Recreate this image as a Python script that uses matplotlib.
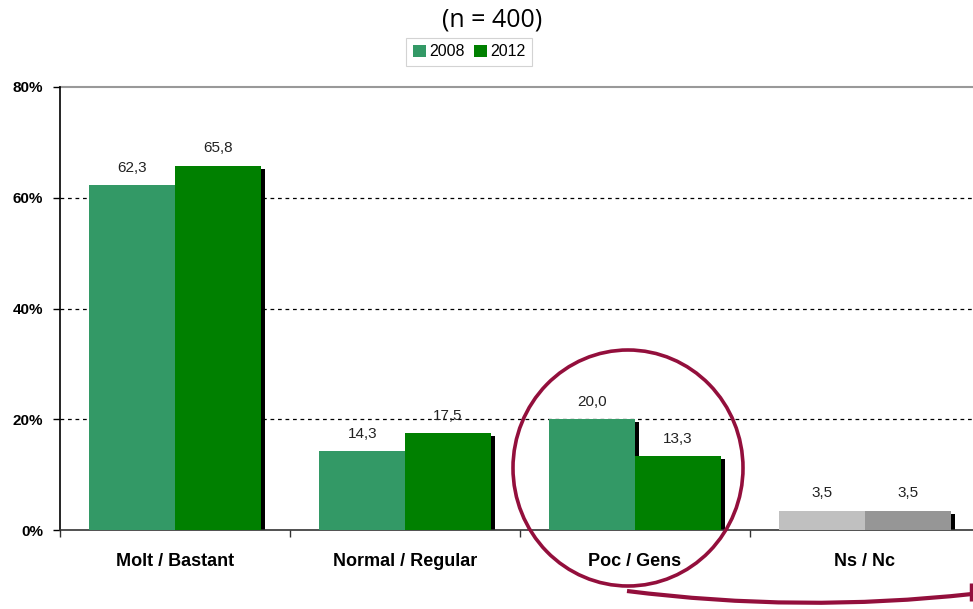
import matplotlib
matplotlib.use("Agg")
import matplotlib.pyplot as plt
from matplotlib.patches import Ellipse, PathPatch, Patch
from matplotlib.path import Path
import matplotlib.transforms as mtransforms

# --- data ---
categories = ["Molt / Bastant", "Normal / Regular", "Poc / Gens", "Ns / Nc"]
values_2008 = [62.3, 14.3, 20.0, 3.5]
values_2012 = [65.8, 17.5, 13.3, 3.5]
series_labels = ["2008", "2012"]
y_ticks = [0, 20, 40, 60, 80]
y_tick_labels = ["0%", "20%", "40%", "60%", "80%"]
title_text = "(n = 400)"

# --- styling ---
colors_2008 = ["#339966", "#339966", "#339966", "#c0c0c0"]
colors_2012 = ["#008000", "#008000", "#008000", "#969696"]
accent = "#930f3c"
W, H = 973, 609

plt.rcParams["font.family"] = ["Liberation Sans", "DejaVu Sans"]

fig = plt.figure(figsize=(W / 100, H / 100), dpi=100)
ax = fig.add_axes([60 / W, 79 / H, 920 / W, 443 / H])

ax.set_xlim(-0.5, 3.5)
ax.set_ylim(0, 80)

bar_w = 0.372
shadow_dx = 4 / 230
shadow_dy = 3 / 5.54

x = list(range(len(categories)))

# drop shadows behind each bar
for xi, v1, v2 in zip(x, values_2008, values_2012):
    ax.bar(xi - bar_w + shadow_dx, v1 - shadow_dy, width=bar_w, align="edge",
           color="black", zorder=2, linewidth=0)
    ax.bar(xi + shadow_dx, v2 - shadow_dy, width=bar_w, align="edge",
           color="black", zorder=2, linewidth=0)

ax.bar([xi - bar_w for xi in x], values_2008, width=bar_w, align="edge",
       color=colors_2008, zorder=3, linewidth=0)
ax.bar(x, values_2012, width=bar_w, align="edge",
       color=colors_2012, zorder=3, linewidth=0)

def fmt(v):
    return f"{v:.1f}".replace(".", ",")

for xi, v1, v2 in zip(x, values_2008, values_2012):
    ax.text(xi - bar_w / 2, v1 + 3.1, fmt(v1), ha="center", va="center",
            fontsize=11, color="#222222", zorder=5)
    ax.text(xi + bar_w / 2, v2 + 3.1, fmt(v2), ha="center", va="center",
            fontsize=11, color="#222222", zorder=5)

# gridlines
for yv in y_ticks[1:-1]:
    ax.axhline(yv, color="black", linestyle=(0, (3, 3)), linewidth=0.9, zorder=1)
ax.axhline(80, color="#999999", linewidth=1.5, zorder=1, clip_on=False)

# spines
for s in ["top", "right"]:
    ax.spines[s].set_visible(False)
ax.spines["left"].set_color("black")
ax.spines["left"].set_linewidth(1.2)
ax.spines["bottom"].set_color("#333333")
ax.spines["bottom"].set_linewidth(1.2)

ax.set_yticks(y_ticks)
ax.set_yticklabels(y_tick_labels, fontsize=11, fontweight="bold")
ax.tick_params(axis="y", direction="out", length=5, width=1, pad=7, color="black")

ax.set_xticks([-0.5, 0.5, 1.5, 2.5, 3.5])
ax.set_xticklabels([])
ax.tick_params(axis="x", direction="out", length=5, width=1, color="#333333")

trans = mtransforms.blended_transform_factory(ax.transData, ax.transAxes)
for xi, cat in zip(x, categories):
    ax.text(xi, -31 / 443, cat, transform=trans, ha="center", va="center",
            fontsize=13, fontweight="bold", color="black")

# title and legend
fig.text(492 / W, 1 - 20 / H, title_text, ha="center", va="center",
         fontsize=18, family=["Open Sans", "DejaVu Sans"], color="black")

handles = [Patch(facecolor=colors_2008[0]), Patch(facecolor=colors_2012[0])]
leg = fig.legend(handles, series_labels, loc="center", bbox_to_anchor=(469 / W, 1 - 52 / H),
                 ncol=2, frameon=True, fancybox=False, fontsize=11.5,
                 handlelength=0.8, handleheight=0.8, handletextpad=0.2,
                 columnspacing=0.6, borderpad=0.4, edgecolor="#c8c8c8")
leg.get_frame().set_linewidth(0.8)

# highlight ring and connector
ring = Ellipse((628 / W, 1 - 468 / H), 230 / W, 236 / H, transform=fig.transFigure,
               fill=False, edgecolor=accent, linewidth=2.6, zorder=10)
fig.patches.append(ring)

def fp(px, py):
    return (px / W, 1 - py / H)

curve = Path([fp(627, 591), fp(800, 613), fp(972, 594)],
             [Path.MOVETO, Path.CURVE3, Path.CURVE3])
fig.patches.append(PathPatch(curve, transform=fig.transFigure, fill=False,
                             edgecolor=accent, linewidth=3, zorder=10))
tip = Path([fp(971, 583), fp(971, 601)], [Path.MOVETO, Path.LINETO])
fig.patches.append(PathPatch(tip, transform=fig.transFigure, fill=False,
                             edgecolor=accent, linewidth=2.5, zorder=10))

fig.savefig("out.png", dpi=100)
